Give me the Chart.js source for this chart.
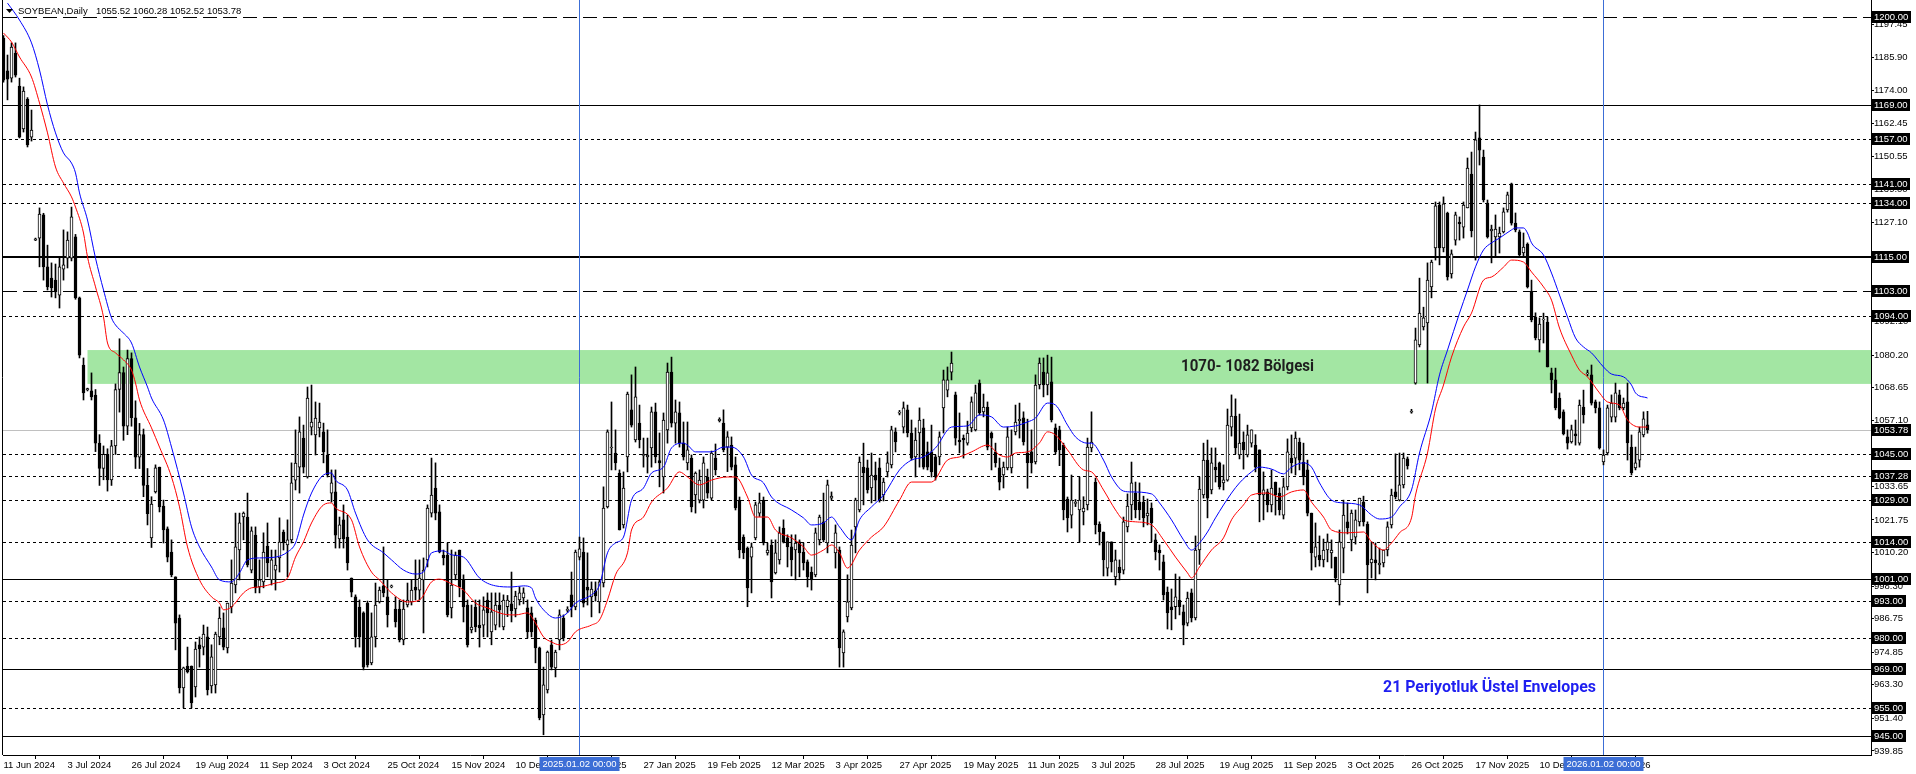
<!DOCTYPE html>
<html><head><meta charset="utf-8">
<script src="https://cdn.jsdelivr.net/npm/chart.js@4.4.1/dist/chart.umd.min.js"></script>
<style>html,body{margin:0;padding:0;background:#fff;overflow:hidden}canvas{display:block}</style>
</head><body>
<canvas id="c" width="1916" height="774"></canvas>
<script>
const symbolTitle = 'SOYBEAN,Daily';
const titleOHLC = '1055.52 1060.28 1052.52 1053.78';

const opens = [
1192.6,1181.0,1178.4,1187.3,1175.6,1160.4,1171.0,1157.5,1121.0,1121.7,
1129.9,1111.5,1107.5,1106.8,1101.5,1110.7,1114.6,1114.6,1122.1,1100.5,
1076.7,1067.9,1067.5,1066.0,1049.0,1040.0,1045.0,1036.0,1048.0,1068.0,
1074.0,1055.0,1079.0,1058.0,1044.0,1052.0,1034.0,1015.4,1031.7,1040.5,
1026.7,1018.6,1010.4,1001.6,987.0,962.2,970.0,970.0,962.6,977.5,
976.7,980.3,962.9,963.3,980.3,983.5,976.4,990.9,998.7,1011.1,
1022.8,1022.8,1004.0,1016.4,998.0,999.8,1012.5,1000.5,1004.0,1008.3,
1017.5,1012.9,1014.7,1035.9,1040.5,1050.8,1037.0,1054.7,1051.9,1054.4,
1053.0,1044.8,1031.3,1031.7,1015.0,1021.8,1015.7,1001.2,994.5,990.9,
988.8,992.3,971.1,980.3,992.7,998.4,994.5,998.0,990.2,990.2,
979.2,991.6,992.7,998.0,996.9,1000.5,1007.6,1024.2,1033.1,1024.6,
1009.3,1009.3,990.6,1002.3,1011.1,1000.5,991.6,982.8,990.9,984.5,
984.5,993.4,982.1,984.5,991.6,983.8,991.0,992.0,990.2,993.4,
994.1,990.6,988.8,986.3,976.4,952.6,961.5,977.5,969.3,979.2,
987.0,989.7,995.2,990.9,1008.6,1010.4,998.0,994.5,996.6,992.7,
999.4,1026.4,1047.3,1045.5,1038.4,1020.0,1044.1,1060.8,1050.1,1056.1,
1044.6,1044.1,1047.3,1060.1,1042.8,1037.0,1053.7,1074.2,1056.1,1059.7,
1049.0,1042.0,1043.7,1030.6,1028.8,1028.8,1037.0,1029.5,1043.7,1057.0,
1056.1,1047.6,1048.3,1041.3,1028.8,1015.7,1011.8,1008.6,1015.4,1024.2,
1028.8,1010.1,1012.9,1003.0,1007.6,1018.9,1015.4,1012.2,1011.1,1014.0,
1010.4,1006.9,1003.3,1002.3,1014.7,1021.1,1013.6,1029.5,1010.1,1011.1,
974.6,987.4,990.6,1019.3,1025.3,1040.5,1040.2,1033.1,1037.7,1040.2,
1030.6,1038.8,1041.3,1053.0,1059.6,1054.7,1060.8,1052.6,1044.1,1052.6,
1054.4,1045.9,1045.9,1044.1,1044.1,1061.5,1067.8,1074.2,1066.1,1050.1,
1050.8,1049.0,1054.4,1053.7,1070.3,1060.1,1061.8,1052.6,1045.9,1040.2,
1037.7,1040.2,1040.2,1053.0,1057.0,1058.0,1045.5,1045.9,1042.3,1069.6,
1074.2,1069.6,1070.7,1054.4,1053.7,1048.3,1029.2,1023.5,1027.6,1025.3,
1024.6,1027.1,1047.3,1035.2,1020.3,1017.5,1004.7,1014.0,1001.6,1005.1,
1004.0,1019.3,1027.1,1031.3,1028.1,1028.1,1023.2,1026.0,1014.7,1011.1,
1006.9,996.2,991.0,991.0,993.4,989.2,985.2,995.9,987.0,1011.1,
1030.6,1043.0,1032.4,1040.5,1042.0,1034.9,1035.9,1054.7,1058.6,1044.8,
1049.4,1044.8,1049.0,1048.3,1046.6,1030.6,1031.7,1027.1,1035.2,1031.3,
1023.5,1033.5,1043.7,1043.7,1049.4,1042.3,1039.5,1024.2,1008.6,1009.3,
1007.6,1011.1,1010.1,1008.6,998.7,1011.8,1021.1,1014.7,1015.7,1021.1,
1028.1,1020.3,1006.5,1007.6,1005.8,1006.5,1011.1,1020.0,1031.7,1028.8,
1034.2,1043.4,1060.0,1070.3,1083.8,1090.2,1091.6,1104.4,1118.2,1133.4,
1118.2,1130.6,1109.0,1121.0,1127.4,1125.6,1132.4,1144.4,1115.0,1157.2,
1150.4,1134.1,1124.2,1122.1,1122.1,1123.9,1131.7,1140.9,1127.0,1123.9,
1116.4,1119.6,1102.6,1093.7,1085.6,1092.7,1091.9,1073.9,1071.4,1065.0,
1060.1,1051.2,1049.4,1052.3,1049.0,1061.8,1073.6,1073.2,1063.6,1061.5,
1042.3,1045.5,1058.2,1058.2,1066.1,1061.5,1063.6,1047.6,1040.2,1043.0,
1051.9,1055.52
];
const highs = [
1193.5,1186.6,1190.9,1190.9,1178.4,1175.3,1171.5,1167.1,1121.7,1132.4,
1130.5,1119.2,1112.9,1112.5,1115.0,1124.6,1123.9,1132.7,1123.0,1100.8,
1079.2,1068.5,1073.9,1068.0,1052.0,1048.0,1047.0,1050.0,1070.0,1086.0,
1076.0,1082.0,1081.0,1064.0,1056.0,1054.0,1040.0,1030.0,1041.3,1040.5,
1028.8,1019.3,1014.7,1001.6,988.1,969.6,976.7,970.0,978.5,980.3,
984.5,983.8,977.5,982.0,990.9,988.8,992.3,1007.6,1024.2,1024.2,
1024.6,1031.3,1019.3,1019.3,1007.6,1017.2,1020.7,1011.1,1011.1,1022.5,
1018.2,1021.8,1042.0,1053.7,1058.3,1055.4,1068.9,1069.6,1063.6,1063.2,
1056.1,1053.7,1039.5,1039.5,1022.8,1027.1,1023.5,1001.2,995.2,993.4,
989.2,993.0,988.8,999.4,998.0,1012.2,1000.5,998.7,994.5,993.4,
993.4,999.4,1000.5,1007.6,1007.6,1008.3,1027.1,1043.7,1042.0,1027.1,
1011.1,1013.6,1011.1,1010.4,1011.1,1002.3,993.4,991.6,993.4,993.4,
994.5,995.9,995.9,995.9,995.9,995.2,995.0,1003.3,996.5,998.0,
997.7,993.4,990.9,987.0,976.7,969.6,975.3,979.2,975.6,989.9,
988.1,991.0,1003.3,1011.1,1015.7,1015.4,1010.1,999.8,999.8,1000.5,
1033.5,1053.7,1063.6,1053.7,1039.5,1038.8,1067.1,1073.2,1076.0,1062.5,
1050.8,1050.8,1061.8,1063.2,1052.6,1059.7,1077.4,1079.5,1064.3,1063.6,
1056.5,1056.5,1044.8,1038.8,1039.5,1044.1,1039.8,1046.2,1048.7,1058.0,
1060.8,1053.1,1051.2,1044.1,1029.9,1016.5,1012.2,1013.6,1028.1,1031.3,
1029.9,1013.6,1014.7,1014.7,1019.3,1021.8,1016.5,1016.5,1016.5,1014.7,
1013.6,1007.6,1005.1,1018.9,1023.5,1031.3,1035.9,1031.7,1020.0,1012.2,
982.8,1002.3,1018.2,1029.5,1044.1,1049.0,1043.0,1045.5,1042.3,1043.7,
1036.6,1045.9,1055.0,1054.4,1060.6,1063.6,1062.5,1057.2,1054.4,1061.5,
1057.5,1049.4,1055.4,1044.8,1053.0,1074.9,1076.0,1081.3,1067.1,1059.7,
1051.9,1056.8,1065.4,1069.6,1071.4,1066.4,1063.6,1053.0,1049.0,1043.7,
1042.3,1054.7,1053.7,1062.5,1063.2,1060.1,1057.5,1053.7,1073.2,1079.2,
1079.2,1080.2,1079.5,1055.8,1055.0,1049.0,1029.9,1037.7,1029.0,1037.0,
1030.0,1050.8,1060.1,1036.6,1021.1,1017.5,1014.0,1014.0,1011.1,1007.6,
1022.8,1031.0,1042.3,1035.2,1034.9,1030.2,1029.2,1027.8,1016.8,1012.9,
1009.3,998.0,997.3,1002.6,1001.6,991.6,996.2,997.3,1016.1,1037.0,
1049.0,1050.1,1047.3,1047.3,1042.3,1041.3,1061.1,1066.1,1064.7,1059.3,
1053.0,1055.4,1053.7,1052.0,1046.6,1038.8,1032.7,1039.5,1035.2,1033.1,
1036.6,1050.5,1051.9,1053.0,1050.8,1049.0,1043.0,1024.2,1020.7,1016.1,
1015.0,1016.8,1014.7,1008.6,1018.2,1028.8,1027.8,1025.3,1025.3,1029.5,
1030.2,1021.1,1014.0,1013.6,1011.8,1011.1,1021.1,1032.7,1045.2,1045.5,
1045.5,1044.1,1061.0,1089.8,1107.5,1097.2,1112.9,1113.9,1134.5,1134.5,
1136.3,1130.9,1117.5,1130.9,1129.2,1134.5,1150.1,1152.2,1159.3,1168.9,
1152.9,1135.2,1126.3,1129.9,1125.6,1132.4,1138.0,1141.2,1130.6,1124.6,
1123.5,1120.0,1106.8,1095.2,1093.4,1095.1,1093.7,1075.6,1075.6,1066.8,
1060.8,1053.7,1055.4,1057.2,1064.3,1067.8,1074.9,1076.7,1064.3,1063.6,
1046.6,1062.5,1066.1,1070.3,1067.8,1065.0,1070.3,1051.9,1047.6,1054.7,
1060.1,1060.28
];
const lows = [
1177.0,1170.7,1177.0,1178.8,1157.2,1159.3,1154.0,1156.1,1120.8,1111.5,
1106.8,1103.3,1100.8,1100.5,1096.9,1106.8,1111.1,1113.6,1100.0,1079.2,
1064.3,1067.5,1064.3,1046.0,1034.0,1036.0,1032.0,1034.0,1045.0,1060.0,
1050.0,1052.0,1055.0,1040.0,1040.0,1030.0,1020.0,1012.0,1031.3,1024.6,
1013.6,1006.9,1001.6,975.7,960.4,955.1,967.5,955.1,959.0,969.6,
973.9,959.7,960.4,960.4,977.5,975.7,974.6,988.8,995.9,1000.5,
1014.7,1005.1,1003.0,995.9,995.9,997.7,1001.6,998.7,996.9,1003.3,
1011.1,1001.6,1013.6,1032.4,1031.3,1038.4,1036.6,1051.9,1044.8,1051.2,
1042.0,1037.0,1028.1,1011.8,1011.8,1011.8,1004.0,994.5,976.7,976.7,
968.6,969.6,970.4,976.7,992.3,994.5,983.8,997.7,983.8,978.5,
977.5,990.9,991.6,993.4,993.4,981.7,1005.1,1022.8,1021.8,1010.1,
1005.8,987.4,987.0,1000.5,994.5,985.6,976.7,981.7,982.1,976.7,
980.3,980.3,977.5,982.8,983.8,982.8,987.5,985.6,987.4,991.6,
992.0,979.9,980.3,971.1,950.9,945.6,960.4,968.6,966.1,975.7,
978.9,989.0,987.4,989.9,1007.6,990.9,991.6,987.4,993.0,988.8,
998.0,1026.0,1039.5,1039.5,1018.2,1018.9,1038.8,1054.7,1049.4,1047.3,
1040.5,1038.4,1040.5,1042.0,1033.5,1031.3,1049.0,1054.7,1049.0,1047.6,
1043.0,1039.5,1024.6,1024.2,1027.8,1026.0,1029.5,1028.8,1037.7,1056.5,
1045.9,1038.9,1039.5,1025.3,1008.3,1008.0,991.0,995.9,1014.7,1023.0,
1012.9,1009.3,994.1,1002.6,1006.1,1013.6,1005.1,1001.9,1000.5,1001.6,
1004.0,998.0,996.9,1001.6,1012.9,1014.0,1010.1,1028.8,1004.7,969.6,
969.6,985.6,989.9,1010.1,1024.6,1027.1,1031.3,1027.8,1028.5,1028.1,
1028.5,1037.0,1040.2,1045.9,1059.0,1052.6,1051.2,1043.0,1037.0,1040.5,
1039.8,1039.5,1037.0,1035.9,1041.3,1052.6,1065.4,1071.4,1048.3,1045.5,
1043.7,1048.3,1053.0,1053.3,1059.0,1058.3,1046.6,1039.5,1040.5,1032.4,
1033.1,1039.5,1038.4,1051.9,1050.8,1048.3,1033.0,1038.4,1041.6,1068.2,
1065.4,1066.1,1056.5,1045.2,1041.0,1021.8,1017.5,1018.9,1026.5,1013.9,
1020.0,1025.3,1045.9,1016.8,1012.9,1001.9,1001.9,1003.3,998.7,1000.5,
1002.6,1017.5,1021.8,1022.5,1021.8,1019.3,1020.0,1014.0,1007.6,1004.0,
993.4,983.1,982.8,986.7,988.1,977.5,984.2,985.6,986.3,1006.0,
1029.5,1022.5,1031.0,1035.2,1032.7,1032.4,1035.5,1051.5,1045.2,1043.4,
1039.8,1044.1,1047.6,1038.8,1021.1,1021.8,1024.6,1024.6,1023.5,1023.5,
1022.1,1032.4,1038.4,1037.7,1039.5,1034.2,1023.2,1004.0,1005.1,1005.4,
1005.1,1006.9,1004.7,999.8,991.6,1003.0,1016.8,1010.8,1013.2,1019.6,
1019.6,995.9,1001.2,1000.5,1002.6,1005.1,1009.0,1018.9,1029.2,1028.5,
1033.1,1039.8,1059.6,1069.9,1083.1,1089.1,1070.3,1100.5,1113.9,1112.2,
1116.8,1106.8,1107.5,1119.2,1121.0,1121.7,1132.4,1122.1,1113.9,1147.6,
1134.5,1121.7,1112.9,1115.0,1116.4,1123.5,1130.9,1126.3,1123.9,1115.0,
1115.0,1104.0,1092.0,1085.6,1081.3,1084.5,1076.0,1066.8,1060.8,1057.6,
1051.9,1046.9,1049.0,1048.3,1048.3,1056.1,1072.8,1062.5,1059.7,1046.9,
1041.3,1044.8,1056.5,1056.5,1060.8,1060.8,1043.0,1037.7,1039.5,1040.5,
1051.2,1052.52
];
const closes = [
1177.7,1178.0,1189.4,1179.5,1157.5,1173.8,1154.7,1160.0,1121.4,1130.2,
1111.5,1104.4,1104.0,1102.6,1111.5,1112.2,1121.0,1129.2,1100.5,1080.2,
1066.8,1068.3,1065.4,1049.0,1040.0,1045.0,1036.0,1048.0,1068.0,1074.0,
1055.0,1079.0,1058.0,1044.0,1052.0,1034.0,1024.0,1027.4,1040.2,1026.4,
1018.2,1008.6,1002.3,985.2,962.2,969.3,967.9,956.9,976.0,976.0,
981.3,961.5,973.2,981.3,987.0,976.7,992.3,999.4,1012.2,1020.7,
1024.2,1005.8,1017.9,997.7,1000.5,1010.4,1006.5,1007.6,1005.8,1013.9,
1013.6,1014.7,1034.9,1041.9,1053.0,1040.5,1065.0,1056.5,1057.9,1056.5,
1045.9,1037.7,1034.9,1016.4,1020.0,1015.0,1006.5,996.2,980.3,980.3,
969.6,970.4,980.3,991.6,996.9,995.9,988.1,998.4,985.6,979.2,
990.2,993.4,996.9,996.9,1001.2,1004.0,1026.0,1030.6,1024.2,1010.4,
1008.3,988.1,998.7,1009.3,998.0,990.9,977.5,983.8,983.8,983.5,
989.9,988.8,989.2,991.6,989.9,993.4,993.4,989.5,994.8,995.9,
995.9,982.1,982.1,976.4,951.6,963.3,974.9,969.6,974.9,988.1,
979.9,990.1,990.9,1010.4,1011.5,992.3,996.9,997.3,994.8,999.8,
1026.0,1053.0,1047.6,1042.0,1018.2,1033.1,1066.4,1055.4,1065.4,1050.1,
1045.0,1044.8,1060.1,1044.1,1042.0,1057.2,1074.2,1056.1,1060.1,1049.0,
1044.1,1046.6,1026.4,1038.4,1035.9,1042.0,1031.3,1045.5,1039.5,1057.4,
1046.6,1051.2,1040.5,1026.0,1011.1,1010.1,997.7,1012.2,1027.1,1027.8,
1013.6,1011.1,999.8,1010.1,1017.2,1013.9,1012.2,1007.6,1013.6,1010.1,
1006.5,1001.6,1000.5,1017.2,1022.8,1014.7,1034.2,1030.2,1017.2,976.4,
982.1,992.7,1012.9,1028.8,1042.3,1038.4,1032.4,1037.7,1035.9,1028.8,
1035.2,1042.0,1053.7,1049.4,1060.0,1061.5,1052.6,1043.7,1050.1,1057.2,
1040.5,1040.5,1038.8,1037.0,1051.2,1071.4,1071.4,1077.4,1050.8,1049.4,
1050.1,1052.6,1063.6,1066.8,1059.7,1061.8,1047.6,1050.8,1042.0,1035.2,
1040.5,1051.2,1044.8,1056.5,1057.4,1049.4,1042.0,1042.0,1069.6,1077.4,
1069.6,1073.9,1057.2,1045.9,1046.6,1025.3,1022.5,1028.8,1028.0,1028.8,
1026.0,1047.6,1049.4,1020.0,1017.5,1007.6,1014.0,1006.9,1007.6,1003.0,
1021.1,1026.7,1034.9,1025.3,1025.3,1022.5,1024.2,1020.7,1010.4,1010.1,
995.2,988.8,989.9,994.5,991.0,984.5,994.1,987.0,1011.1,1032.7,
1043.0,1029.5,1042.0,1039.5,1033.5,1036.0,1055.4,1058.6,1047.3,1049.0,
1046.6,1051.9,1053.7,1040.5,1030.6,1032.4,1027.1,1033.1,1030.6,1025.3,
1033.5,1045.9,1042.0,1050.8,1043.0,1037.0,1024.2,1010.1,1012.2,1007.6,
1011.1,1014.0,1011.1,1001.2,1014.0,1023.5,1018.9,1024.2,1021.8,1029.5,
1021.1,1005.8,1007.9,1006.5,1006.5,1011.1,1019.3,1030.6,1029.9,1034.2,
1043.7,1040.9,1060.4,1085.6,1095.1,1093.4,1106.8,1113.2,1133.1,1118.2,
1133.8,1107.9,1116.1,1129.9,1126.7,1133.4,1146.5,1124.2,1156.5,1152.9,
1135.2,1122.1,1124.9,1124.9,1123.5,1131.0,1137.0,1127.0,1124.6,1115.7,
1118.5,1104.4,1092.7,1086.3,1091.2,1093.0,1076.0,1071.4,1061.5,1057.9,
1052.3,1049.0,1053.7,1051.6,1062.5,1059.0,1073.9,1063.2,1061.5,1047.3,
1044.8,1061.5,1063.2,1066.8,1061.5,1063.2,1049.1,1038.4,1042.0,1053.0,
1057.6,1053.78
];

const upperBars = [1,4,7,9,11,13,15,17,18,19,21,23,25,27,28,30,32,34,36,37,40,42,45,47,49,52,54,57,59,61,64,68,71,73,75,77,80,82,83,86,88,91,95,97,100,103,105,107,110,112,115,119,123,127,130,132,133,135,138,141,143,147,149,151,153,155,157,160,162,165,167,170,171,173,177,180,182,185,187,190,192,197,200,202,205,207,209,212,214,217,220,224,227,230,233,237,241,244,247,250,253,256,258,261,263,266,268,271,272,275,277,280,282,287,289,292,295,297,299,301,303,307,309,312,314,317,320,322,325,327,329,332,335,339,342,344,347,349,352,354,357,359,361,364,366,368,370,372,374,377,378,380,381,382,385,387,389,391,393,395,397,400,402,405,407,408,411];
const upperVals = [1205.0,1199.0,1190.9,1181.3,1168.9,1159.0,1151.9,1148.3,1144.8,1137.7,1128.1,1114.6,1103.3,1093.4,1090.9,1088.0,1084.5,1076.0,1068.9,1065.0,1057.2,1047.6,1031.3,1019.3,1012.2,1005.1,1000.5,999.8,1003.0,1007.6,1008.3,1008.6,1010.4,1013.6,1023.5,1031.3,1037.7,1038.4,1035.9,1032.4,1024.2,1014.7,1010.1,1007.6,1004.0,1002.6,1003.3,1010.1,1010.8,1009.4,1008.6,1001.2,998.4,998.0,998.4,997.7,994.1,989.9,987.0,988.8,992.3,995.2,998.7,1010.1,1013.6,1015.7,1028.8,1033.1,1038.4,1040.5,1047.3,1049.0,1048.3,1045.9,1045.9,1047.6,1047.6,1044.1,1037.7,1034.9,1029.9,1025.3,1022.5,1020.0,1020.7,1022.8,1019.3,1014.7,1021.8,1026.4,1030.6,1039.5,1043.0,1044.1,1047.3,1054.7,1055.1,1059.0,1058.3,1054.7,1055.1,1056.5,1057.9,1063.2,1062.5,1055.4,1051.2,1049.0,1049.0,1043.0,1037.0,1032.0,1031.7,1031.0,1027.8,1021.8,1014.7,1011.1,1013.6,1017.5,1022.5,1031.3,1034.9,1038.8,1040.5,1039.8,1038.1,1040.5,1042.0,1040.5,1034.9,1028.8,1027.8,1027.1,1023.5,1022.1,1022.8,1026.4,1032.4,1045.5,1060.0,1073.2,1082.0,1095.1,1103.3,1111.5,1117.5,1120.0,1121.7,1124.6,1125.3,1125.3,1123.5,1120.0,1115.7,1109.3,1101.5,1093.7,1086.3,1083.1,1081.0,1076.0,1073.5,1072.5,1069.6,1066.8,1065.0];

const lowerBars = [0,2,4,7,9,11,13,15,17,18,20,21,23,25,26,28,30,32,33,34,37,39,42,44,46,49,52,54,55,57,60,62,64,68,71,73,75,77,80,82,83,87,89,92,94,97,101,104,107,109,112,115,118,121,125,128,131,133,135,137,139,141,143,147,149,151,153,156,157,160,162,166,169,171,174,177,181,183,186,188,191,193,197,200,202,205,207,209,211,214,217,220,224,227,232,236,239,242,246,249,251,253,256,259,261,263,266,270,272,275,278,280,283,287,290,293,296,297,299,302,305,307,310,312,316,319,322,325,327,330,332,336,340,342,345,347,349,352,353,356,358,360,362,365,367,370,372,375,377,380,382,385,387,389,392,394,396,399,401,404,406,409,411];
const lowerVals = [1194.4,1191.2,1185.9,1178.8,1169.6,1159.0,1146.9,1141.2,1136.3,1132.7,1123.5,1115.0,1104.4,1093.7,1084.5,1081.0,1078.5,1074.9,1070.3,1064.3,1054.4,1047.6,1037.0,1026.4,1012.2,1000.5,994.5,992.3,989.9,990.9,995.9,997.7,998.0,999.4,1001.2,1008.6,1014.0,1020.7,1027.1,1027.8,1026.0,1021.8,1012.2,1003.3,1000.5,995.9,992.7,993.4,999.8,1000.8,999.1,996.9,992.3,990.6,988.4,988.1,988.8,985.2,980.3,978.5,977.5,978.5,982.1,984.5,986.3,993.4,1002.3,1010.1,1018.2,1022.8,1028.1,1033.1,1038.8,1037.0,1034.2,1035.9,1037.0,1037.0,1029.9,1022.8,1022.8,1018.2,1015.4,1012.2,1009.3,1011.1,1012.9,1010.1,1004.7,1011.1,1015.7,1019.3,1028.8,1035.2,1035.2,1043.0,1044.1,1045.9,1048.3,1044.8,1044.1,1045.5,1045.9,1049.1,1053.0,1051.9,1046.6,1039.5,1038.8,1032.4,1025.3,1021.8,1021.1,1020.0,1014.7,1008.6,1003.0,1001.2,1005.1,1011.1,1015.4,1021.8,1027.1,1030.6,1031.3,1029.9,1031.7,1032.4,1028.1,1022.8,1018.2,1017.2,1017.5,1014.0,1011.1,1013.6,1017.2,1022.5,1030.6,1045.5,1061.1,1069.6,1079.5,1090.2,1095.1,1106.8,1107.9,1111.4,1113.9,1113.2,1109.7,1104.4,1099.7,1089.8,1080.2,1074.9,1072.5,1066.8,1063.6,1062.5,1057.2,1054.7,1054.7];

const dateTickBars = [0,16,32,48,64,80,96,112,128,144,160,176,192,208,224,240,256,272,288,304,320,336,352,368,384,400];
const dateTickLabels = ['11 Jun 2024','3 Jul 2024','26 Jul 2024','19 Aug 2024','11 Sep 2024','3 Oct 2024','25 Oct 2024','15 Nov 2024','10 Dec 2024','2 Jan 2025','27 Jan 2025','19 Feb 2025','12 Mar 2025','3 Apr 2025','27 Apr 2025','19 May 2025','11 Jun 2025','3 Jul 2025','28 Jul 2025','19 Aug 2025','11 Sep 2025','3 Oct 2025','26 Oct 2025','17 Nov 2025','10 Dec 2025','2 Jan 2026'];
const yTickValues = [1197.45,1185.90,1174.00,1162.45,1150.55,1139.00,1127.10,1115.55,1103.65,1092.10,1080.20,1068.65,1057.10,1045.20,1033.65,1021.75,1010.20,998.30,986.75,974.85,963.30,951.40,939.85];

const levelPrices = [1200,1169,1157,1141,1134,1115,1103,1094,1045,1037.28,1029,1014,1001,993,980,969,955,945];
const levelStyles = ['dash','solid','dot','dot','dot','thick','dash','dot','dot','dot','dot','dot','solid','dot','dot','solid','dot','solid'];
const lastPrice = 1053.78;
const zoneLow = 1070, zoneHigh = 1082, zoneStartBar = 21;
const zoneText = '1070- 1082 Bölgesi';
const zoneTextBar = 311, zoneTextPrice = 1076;
const envText = '21 Periyotluk Üstel Envelopes';
const envTextBar = 371.5, envTextPrice = 962.2;
const markerBars = [144, 400];
const markerLabels = ['2025.01.02 00:00', '2026.01.02 00:00'];
const totalSlots = 467;
const yMin = 938.43, yMax = 1206.11;

if (![highs.length, lows.length, closes.length].every(n => n === opens.length)) throw new Error('length mismatch ' + [opens.length, highs.length, lows.length, closes.length]);
if (upperBars.length !== upperVals.length || lowerBars.length !== lowerVals.length) throw new Error('line mismatch ' + [upperBars.length, upperVals.length, lowerBars.length, lowerVals.length]);

const AXIS_FAMILY = "'Liberation Sans', Arial, sans-serif";
const AXIS_SIZE = 9.5;
const AXIS_FONT = AXIS_SIZE + "px " + AXIS_FAMILY;
const MARK_BLUE = '#3c6ed6';

const overlay = {
  id: 'overlay',
  beforeDatasetsDraw(chart) {
    const {ctx, chartArea: a, scales: {x, y}} = chart;
    ctx.save();
    ctx.beginPath(); ctx.rect(a.left, a.top, a.right - a.left, a.bottom - a.top); ctx.clip();
    const zx = x.getPixelForValue(zoneStartBar);
    const zt = y.getPixelForValue(zoneHigh), zb = y.getPixelForValue(zoneLow);
    ctx.fillStyle = '#a3e6a3';
    ctx.fillRect(zx, zt, a.right - zx, zb - zt);
    levelPrices.forEach((p, k) => {
      const st = levelStyles[k];
      const yy = Math.round(y.getPixelForValue(p));
      ctx.strokeStyle = '#000';
      ctx.lineWidth = st === 'thick' ? 2 : 1;
      ctx.setLineDash(st === 'dot' ? [3, 3] : st === 'dash' ? [14, 6] : []);
      const yo = st === 'thick' ? yy : yy + 0.5;
      ctx.beginPath(); ctx.moveTo(a.left, yo); ctx.lineTo(a.right, yo); ctx.stroke();
    });
    ctx.setLineDash([]);
    const ly = Math.round(y.getPixelForValue(lastPrice)) + 0.5;
    ctx.strokeStyle = '#c0c0c0'; ctx.lineWidth = 1;
    ctx.beginPath(); ctx.moveTo(a.left, ly); ctx.lineTo(a.right, ly); ctx.stroke();
    ctx.strokeStyle = MARK_BLUE;
    markerBars.forEach(b => {
      const xx = Math.floor(x.getPixelForValue(b)) + 0.5;
      ctx.beginPath(); ctx.moveTo(xx, a.top); ctx.lineTo(xx, a.bottom); ctx.stroke();
    });
    ctx.restore();
  },
  afterDatasetsDraw(chart) {
    const {ctx, scales: {x, y}} = chart;
    ctx.save();
    ctx.textAlign = 'center'; ctx.textBaseline = 'middle';
    ctx.font = "bold 17px Roboto, 'DejaVu Sans', sans-serif";
    ctx.fillStyle = '#1e1e1e';
    ctx.fillText(zoneText, x.getPixelForValue(zoneTextBar), y.getPixelForValue(zoneTextPrice), 133);
    ctx.fillStyle = '#1f1ff0';
    ctx.fillText(envText, x.getPixelForValue(envTextBar), y.getPixelForValue(envTextPrice), 213);
    ctx.restore();
  },
  afterDraw(chart) {
    const {ctx, chartArea: a, scales: {x, y}} = chart;
    ctx.save();
    ctx.strokeStyle = '#000'; ctx.lineWidth = 1;
    ctx.beginPath(); ctx.moveTo(a.left - 0.5, a.top); ctx.lineTo(a.left - 0.5, a.bottom); ctx.stroke();
    ctx.fillStyle = '#000';
    ctx.beginPath(); ctx.moveTo(6, 9); ctx.lineTo(13, 9); ctx.lineTo(9.5, 13); ctx.closePath(); ctx.fill();
    ctx.font = AXIS_FONT; ctx.textBaseline = 'middle'; ctx.textAlign = 'left';
    ctx.fillText(symbolTitle, 18, 11);
    ctx.fillText(titleOHLC, 96, 11);
    const boxes = levelPrices.concat([lastPrice]);
    boxes.forEach(p => {
      const yy = Math.round(y.getPixelForValue(p));
      const txt = p.toFixed(2);
      const w = Math.ceil(ctx.measureText(txt).width) + 4;
      ctx.fillStyle = '#000';
      ctx.fillRect(a.right + 1, yy - 6, w, 12);
      ctx.fillStyle = '#fff';
      ctx.fillText(txt, a.right + 3, yy + 0.5);
    });
    ctx.textAlign = 'center';
    markerBars.forEach((b, k) => {
      const xx = Math.floor(x.getPixelForValue(b)) + 0.5;
      ctx.fillStyle = MARK_BLUE;
      ctx.fillRect(xx - 40, a.bottom + 2, 80, 14);
      ctx.fillStyle = '#fff';
      ctx.fillText(markerLabels[k], xx, a.bottom + 9.5);
    });
    ctx.restore();
  }
};

const bodyColor = c => (closes[c.dataIndex] >= opens[c.dataIndex] ? '#ffffff' : '#000000');

new Chart(document.getElementById('c'), {
  type: 'bar',
  data: {
    datasets: [
      { type: 'line', label: 'upper', data: upperBars.map((b, k) => ({x: b, y: upperVals[k]})), borderColor: '#0000ff', borderWidth: 1, pointRadius: 0, cubicInterpolationMode: 'monotone', order: 0 },
      { type: 'line', label: 'lower', data: lowerBars.map((b, k) => ({x: b, y: lowerVals[k]})), borderColor: '#ff0000', borderWidth: 1, pointRadius: 0, cubicInterpolationMode: 'monotone', order: 1 },
      { type: 'bar', label: 'body', data: opens.map((o, i) => ({x: i, y: [o, closes[i]]})), backgroundColor: bodyColor, borderColor: '#000', borderWidth: 1, borderSkipped: false, barThickness: 3, grouped: false, order: 2 },
      { type: 'bar', label: 'wick', data: highs.map((h, i) => ({x: i, y: [lows[i], h]})), backgroundColor: '#000', borderWidth: 0, barThickness: 1, grouped: false, order: 3 }
    ]
  },
  options: {
    responsive: false, animation: false, devicePixelRatio: 1,
    layout: { padding: { left: 3, top: 0, right: 0, bottom: 0 } },
    plugins: { legend: { display: false }, tooltip: { enabled: false }, title: { display: false } },
    scales: {
      x: {
        type: 'linear', min: -0.125, max: totalSlots - 0.125, position: 'bottom', offset: false,
        afterBuildTicks: s => { s.ticks = dateTickBars.map(v => ({value: v})); },
        afterFit: s => { s.height = 19; s.paddingLeft = 0; s.paddingRight = 0; },
        grid: { display: true, drawOnChartArea: false, drawTicks: true, tickLength: 4, color: '#000' },
        border: { display: true, color: '#000', width: 1 },
        ticks: { autoSkip: false, maxRotation: 0, minRotation: 0, align: 'start', padding: 1, color: '#000', font: { family: AXIS_FAMILY, size: AXIS_SIZE },
          callback: v => { const k = dateTickBars.indexOf(v); return k >= 0 ? dateTickLabels[k] : ''; } }
      },
      y: {
        type: 'linear', position: 'right', min: yMin, max: yMax,
        afterBuildTicks: s => { s.ticks = yTickValues.map(v => ({value: v})); },
        afterFit: s => { s.width = 45; s.paddingTop = 0; s.paddingBottom = 0; },
        grid: { display: true, drawOnChartArea: false, drawTicks: true, tickLength: 3, color: '#000' },
        border: { display: true, color: '#000', width: 1 },
        ticks: { autoSkip: false, padding: 0, color: '#000', font: { family: AXIS_FAMILY, size: AXIS_SIZE }, callback: v => Number(v).toFixed(2) }
      }
    }
  },
  plugins: [overlay]
});
</script>
</body></html>
